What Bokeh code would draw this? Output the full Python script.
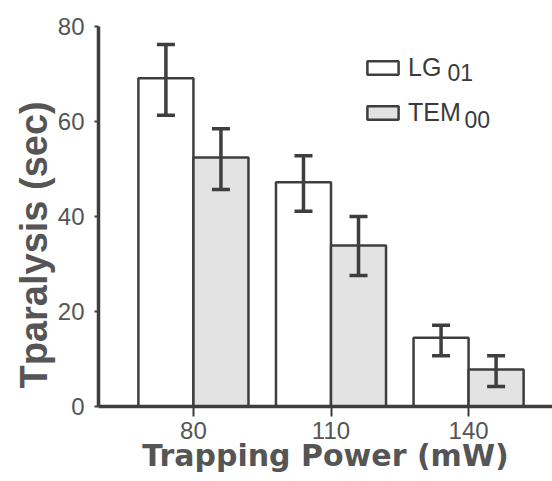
from bokeh.plotting import figure
from bokeh.models import (ColumnDataSource, Range1d, FixedTicker, Whisker, TeeHead,
                          Legend, LegendItem, Label, Title)
from bokeh.transform import dodge
from bokeh.embed import file_html
from bokeh.resources import INLINE

# ---- data ----
power = [80, 110, 140]
tick_labels = ["80", "110", "140"]
lg01 = [69.1, 47.2, 14.5]
lg01_upper = [76.2, 52.8, 17.1]
lg01_lower = [61.3, 41.1, 10.7]
tem00 = [52.4, 33.9, 7.8]
tem00_upper = [58.5, 40.0, 10.7]
tem00_lower = [45.7, 27.6, 4.2]
y_ticks = [0, 20, 40, 60, 80]

src = ColumnDataSource(dict(power=power, lg01=lg01, lg01_upper=lg01_upper, lg01_lower=lg01_lower,
                            tem00=tem00, tem00_upper=tem00_upper, tem00_lower=tem00_lower))

INK = "#3e3e3e"
TXT = "#555555"
OFF = 6.0
W = 12.0

p = figure(width=552, height=481, output_backend="svg", toolbar_location=None,
           x_range=Range1d(59.3, 158.3), y_range=Range1d(0, 80),
           min_border_left=98, min_border_right=0, min_border_top=26, min_border_bottom=75)
p.outline_line_color = None
p.xgrid.visible = False
p.ygrid.visible = False
p.background_fill_color = "white"

r_lg = p.vbar(x=dodge("power", -OFF), top="lg01", width=W, source=src,
              fill_color="white", line_color=INK, line_width=2.5)
r_tem = p.vbar(x=dodge("power", OFF), top="tem00", width=W, source=src,
               fill_color="#e3e3e3", line_color=INK, line_width=2.5)

for key, off in (("lg01", -OFF), ("tem00", OFF)):
    wk = Whisker(base=dodge("power", off), upper=key + "_upper", lower=key + "_lower", source=src,
                 line_color=INK, line_width=3.5, level="overlay",
                 upper_head=TeeHead(size=18, line_color=INK, line_width=3.5),
                 lower_head=TeeHead(size=18, line_color=INK, line_width=3.5))
    p.add_layout(wk)

# axes
p.xaxis.ticker = FixedTicker(ticks=power)
p.xaxis.major_label_overrides = {v: t for v, t in zip(power, tick_labels)}
p.yaxis.ticker = FixedTicker(ticks=y_ticks)
for ax in (p.xaxis[0], p.yaxis[0]):
    ax.axis_line_color = INK
    ax.axis_line_width = 3.5
    ax.major_tick_line_color = INK
    ax.major_tick_line_width = 2
    ax.major_tick_in = 0
    ax.minor_tick_line_color = None
    ax.major_label_text_font = "Liberation Sans"
    ax.major_label_text_font_size = "24px"
    ax.major_label_text_color = TXT
    ax.axis_label_text_color = TXT
    ax.axis_label_text_font_style = "bold"
p.xaxis.major_tick_out = 10
p.xaxis.major_label_standoff = 5
p.xaxis.axis_label = "Trapping Power (mW)"
p.xaxis.axis_label_text_font = "DejaVu Sans"
p.xaxis.axis_label_text_font_size = "30px"
p.xaxis.axis_label_standoff = -4
p.yaxis.major_tick_out = 4
p.yaxis.major_label_standoff = 10

# y-axis title, starting a little above the frame bottom as in the reference
p.add_layout(Title(text="Tparalysis (sec)", align="left", offset=18, standoff=0,
                   text_font="Liberation Sans", text_font_style="bold", text_font_size="38px",
                   text_color=TXT), "left")

legend = Legend(items=[LegendItem(label="LG", renderers=[r_lg]),
                       LegendItem(label="TEM", renderers=[r_tem])],
                location=(265, 279), padding=0, margin=0, spacing=16,
                glyph_width=39, glyph_height=17, label_height=17, label_standoff=6,
                label_text_font="Liberation Sans", label_text_font_size="25px",
                label_text_color="#3a3a3a", border_line_color=None,
                background_fill_alpha=0)
p.add_layout(legend)

for txt, xx, yy in (("01", 349, 334), ("00", 366, 287)):
    p.add_layout(Label(x=xx, y=yy, x_units="screen", y_units="screen", text=txt,
                       text_baseline="alphabetic",
                       text_font="Liberation Sans", text_font_size="23px",
                       text_color="#3a3a3a"))

open("out.html", "w").write(file_html(p, INLINE))
